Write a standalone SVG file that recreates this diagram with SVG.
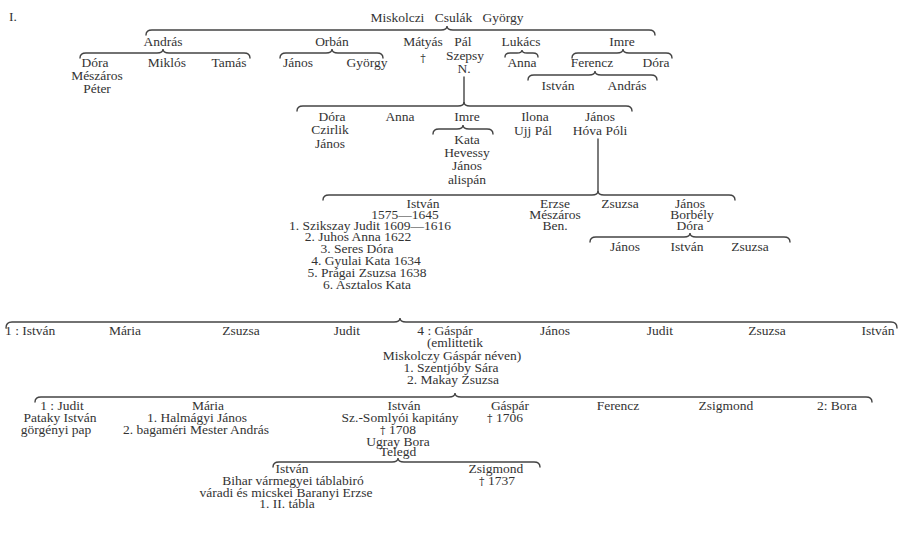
<svg xmlns="http://www.w3.org/2000/svg" width="901" height="547" viewBox="0 0 901 547">
<style>
text{font-family:"Liberation Serif","Times New Roman",serif;font-size:13.5px;fill:#333;text-anchor:middle}
.s{text-anchor:start}
.d{font-family:"DejaVu Serif","Liberation Serif",serif;font-size:11px}
.b{fill:none;stroke:#444;stroke-width:1.4;stroke-linecap:round}
</style>
<rect width="901" height="547" fill="#fff"/>
<g id="connectors">
<path class="b" d="M146 35 Q146 30 152 30 L441 30 Q447 30 447 26 Q447 30 453 30 L649 30 Q655 30 655 35"/>
<path class="b" d="M80 58 Q80 53 86 53 L157 53 Q163 53 163 49 Q163 53 169 53 L244 53 Q250 53 250 58"/>
<path class="b" d="M280 58 Q280 53 286 53 L326 53 Q332 53 332 49 Q332 53 338 53 L377 53 Q383 53 383 58"/>
<path class="b" d="M505 57 Q505 53 510 53 L517 53 Q522 53 522 50 Q522 53 527 53 L533 53 Q538 53 538 57"/>
<path class="b" d="M572 58 Q572 53 578 53 L617 53 Q623 53 623 49 Q623 53 629 53 L666 53 Q672 53 672 58"/>
<path class="b" d="M528 80 Q528 75 534 75 L589 75 Q595 75 595 71 Q595 75 601 75 L651 75 Q657 75 657 80"/>
<path class="b" d="M464 77 L464 104"/>
<path class="b" d="M297 111 Q297 106 303 106 L458 106 Q464 106 464 102 Q464 106 470 106 L626 106 Q632 106 632 111"/>
<path class="b" d="M433 134 Q433 129 439 129 L457 129 Q463 129 463 125 Q463 129 469 129 L487 129 Q493 129 493 134"/>
<path class="b" d="M598 139 L598 192"/>
<path class="b" d="M323 200 Q323 195 329 195 L592 195 Q598 195 598 191 Q598 195 604 195 L729 195 Q735 195 735 200"/>
<path class="b" d="M590 242 Q590 237 596 237 L684 237 Q690 237 690 233 Q690 237 696 237 L784 237 Q790 237 790 242"/>
<path class="b" d="M6 328 Q6 322 12 322 L394 322 Q400 322 400 318 Q400 322 406 322 L891 322 Q897 322 897 328"/>
<path class="b" d="M35 402 Q35 397 41 397 L449 397 Q455 397 455 393 Q455 397 461 397 L866 397 Q872 397 872 402"/>
<path class="b" d="M273 467 Q273 462 279 462 L392 462 Q398 462 398 458 Q398 462 404 462 L534 462 Q540 462 540 467"/>
</g>
<g id="table-no"><text class="s" x="9" y="21">I.</text></g>
<g id="gyorgy"><text x="447" y="22" word-spacing="7">Miskolczi Csulák György</text></g>
<g id="andras"><text x="163" y="46">András</text></g>
<g id="orban"><text x="332" y="46">Orbán</text></g>
<g id="matyas"><text x="423" y="46">Mátyás</text><text class="d" x="423" y="62">†</text></g>
<g id="pal"><text x="463" y="46">Pál</text><text x="465" y="60">Szepsy</text><text x="464" y="73">N.</text></g>
<g id="lukacs"><text x="521" y="46">Lukács</text></g>
<g id="imre1"><text x="622" y="46">Imre</text></g>
<g id="dora1"><text x="95" y="67">Dóra</text><text x="97" y="80">Mészáros</text><text x="97" y="93">Péter</text></g>
<g id="miklos"><text x="167" y="67">Miklós</text></g>
<g id="tamas"><text x="229" y="67">Tamás</text></g>
<g id="janos1"><text x="298" y="67">János</text></g>
<g id="gyorgy2"><text x="367" y="67">György</text></g>
<g id="anna1"><text x="522" y="67">Anna</text></g>
<g id="ferencz"><text x="592" y="67">Ferencz</text></g>
<g id="dora2"><text x="656" y="67">Dóra</text></g>
<g id="istvan1"><text x="558" y="90">István</text></g>
<g id="andras2"><text x="627" y="90">András</text></g>
<g id="dora3"><text x="332" y="121">Dóra</text><text x="330" y="134">Czirlik</text><text x="330" y="148">János</text></g>
<g id="anna2"><text x="400" y="121">Anna</text></g>
<g id="imre2"><text x="467" y="121">Imre</text></g>
<g id="kata"><text x="467" y="144">Kata</text><text x="467" y="157">Hevessy</text><text x="467" y="170">János</text><text x="467" y="184">alispán</text></g>
<g id="ilona"><text x="535" y="121">Ilona</text><text x="533" y="135">Ujj Pál</text></g>
<g id="janos2"><text x="600" y="121">János</text><text x="600" y="135">Hóva Póli</text></g>
<g id="istvan2">
<text x="423" y="208">István</text>
<text x="405" y="219">1575—1645</text>
<text x="370" y="230">1. Szikszay Judit 1609—1616</text>
<text x="358" y="241">2. Juhos Anna 1622</text>
<text x="357" y="253">3. Seres Dóra</text>
<text x="366" y="265">4. Gyulai Kata 1634</text>
<text x="367" y="277">5. Prágai Zsuzsa 1638</text>
<text x="367" y="289">6. Asztalos Kata</text>
</g>
<g id="erzse"><text x="555" y="208">Erzse</text><text x="555" y="219">Mészáros</text><text x="555" y="230">Ben.</text></g>
<g id="zsuzsa1"><text x="620" y="208">Zsuzsa</text></g>
<g id="janos3"><text x="690" y="208">János</text><text x="692" y="219">Borbély</text><text x="690" y="230">Dóra</text></g>
<g id="janos4"><text x="625" y="251">János</text></g>
<g id="istvan3"><text x="687" y="251">István</text></g>
<g id="zsuzsa2"><text x="750" y="251">Zsuzsa</text></g>
<g id="istvan4"><text class="s" x="5" y="335">1 : István</text></g>
<g id="maria1"><text x="125" y="335">Mária</text></g>
<g id="zsuzsa3"><text x="241" y="335">Zsuzsa</text></g>
<g id="judit1"><text x="347" y="335">Judit</text></g>
<g id="gaspar">
<text x="445" y="335">4 : Gáspár</text>
<text x="455" y="347">(emlittetik</text>
<text x="452" y="360">Miskolczy Gáspár néven)</text>
<text x="451" y="372">1. Szentjóby Sára</text>
<text x="453" y="384">2. Makay Zsuzsa</text>
</g>
<g id="janos5"><text x="555" y="335">János</text></g>
<g id="judit2"><text x="660" y="335">Judit</text></g>
<g id="zsuzsa4"><text x="767" y="335">Zsuzsa</text></g>
<g id="istvan5"><text x="878" y="335">István</text></g>
<g id="judit3"><text x="62" y="410">1 : Judit</text><text x="60" y="422">Pataky István</text><text x="56" y="434">görgényi pap</text></g>
<g id="maria2"><text x="208" y="410">Mária</text><text x="197" y="422">1. Halmágyi János</text><text x="196" y="434">2. bagaméri Mester András</text></g>
<g id="istvan6"><text x="404" y="410">István</text><text x="400" y="422">Sz.-Somlyói kapitány</text><text x="398" y="434"><tspan class="d">†</tspan> 1708</text><text x="398" y="446">Ugray Bora</text><text x="398" y="456">Telegd</text></g>
<g id="gaspar2"><text x="510" y="410">Gáspár</text><text x="505" y="422"><tspan class="d">†</tspan> 1706</text></g>
<g id="ferencz2"><text x="618" y="410">Ferencz</text></g>
<g id="zsigmond1"><text x="726" y="410">Zsigmond</text></g>
<g id="bora"><text x="837" y="410">2: Bora</text></g>
<g id="istvan7"><text x="292" y="473">István</text><text x="293" y="485">Bihar vármegyei táblabiró</text><text x="286" y="497">váradi és micskei Baranyi Erzse</text><text x="287" y="508">1. II. tábla</text></g>
<g id="zsigmond2"><text x="496" y="473">Zsigmond</text><text x="497" y="485"><tspan class="d">†</tspan> 1737</text></g>
</svg>
